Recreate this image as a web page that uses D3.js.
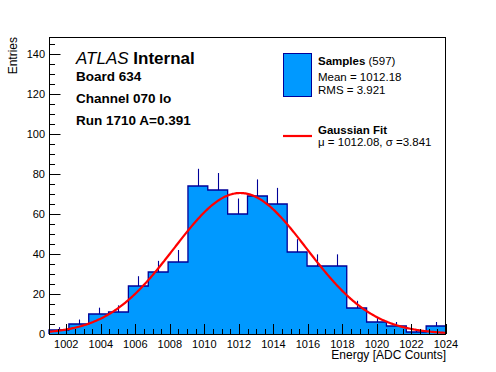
<!DOCTYPE html>
<html>
<head>
<meta charset="utf-8">
<script src="https://cdn.jsdelivr.net/npm/d3@7"></script>
<style>
  html, body { margin: 0; padding: 0; background: #fff; }
  svg { display: block; font-family: "Liberation Sans", Arial, Helvetica, sans-serif; }
</style>
</head>
<body>
<div id="chart"></div>
<script>
// ---------- data ----------
const binEdges = [1001, 1002.15, 1003.3, 1004.45, 1005.6, 1006.75, 1007.9, 1009.05, 1010.2, 1011.35,
                  1012.5, 1013.65, 1014.8, 1015.95, 1017.1, 1018.25, 1019.4, 1020.55, 1021.7, 1022.85, 1024];
const counts = [2, 5, 10, 11, 24, 31, 36, 74, 72, 60, 69, 65, 41, 34, 34, 13, 6, 4, 1, 4];
const xTicks = [1002, 1004, 1006, 1008, 1010, 1012, 1014, 1016, 1018, 1020, 1022, 1024];
const yTicks = [0, 20, 40, 60, 80, 100, 120, 140];
const fitMu = 1012.08, fitSigma = 3.841, fitAmp = 70.5;
const infoLines = ["Board 634", "Channel 070 lo", "Run 1710 A=0.391"];

// ---------- layout ----------
const W = 496, H = 372;
const L = 49, R = 446, T = 37, B = 334;
const fillC = "#0099ff", lineC = "#000099", redC = "#ff0000";

const svg = d3.select("#chart").append("svg").attr("width", W).attr("height", H);
svg.append("rect").attr("width", W).attr("height", H).attr("fill", "#fff");

const x = d3.scaleLinear().domain([1001, 1024]).range([L, R]);
const y = d3.scaleLinear().domain([0, 148.5]).range([B, T]);

const bins = counts.map((c, i) => ({ x0: binEdges[i], x1: binEdges[i + 1], v: c }));

// fill
svg.append("g").selectAll("rect").data(bins).enter().append("rect")
  .attr("x", d => x(d.x0)).attr("width", d => x(d.x1) - x(d.x0))
  .attr("y", d => y(d.v)).attr("height", d => y(0) - y(d.v))
  .attr("fill", fillC).attr("shape-rendering", "crispEdges");

// outline (step)
const stepPts = [[binEdges[0], 0]];
bins.forEach(d => { stepPts.push([d.x0, d.v]); stepPts.push([d.x1, d.v]); });
stepPts.push([binEdges[binEdges.length - 1], 0]);
svg.append("path")
  .attr("d", d3.line().x(p => x(p[0])).y(p => y(p[1]))(stepPts))
  .attr("fill", "none").attr("stroke", lineC).attr("stroke-width", 1.3);

// error bars (upper part)
svg.append("g").selectAll("line").data(bins).enter().append("line")
  .attr("x1", d => Math.round(x((d.x0 + d.x1) / 2)) + 0.5)
  .attr("x2", d => Math.round(x((d.x0 + d.x1) / 2)) + 0.5)
  .attr("y1", d => y(d.v)).attr("y2", d => y(d.v + Math.sqrt(d.v)))
  .attr("stroke", lineC).attr("stroke-width", 1.1);

// gaussian fit curve
const fx = d3.range(0, 401).map(i => 1001 + i * 23 / 400);
svg.append("path")
  .attr("d", d3.line().x(v => x(v)).y(v => y(fitAmp * Math.exp(-0.5 * Math.pow((v - fitMu) / fitSigma, 2))))(fx))
  .attr("fill", "none").attr("stroke", redC).attr("stroke-width", 2.2);

// frame
svg.append("rect").attr("x", L + 0.5).attr("y", T + 0.5).attr("width", R - L - 1).attr("height", B - T)
  .attr("fill", "none").attr("stroke", "#000").attr("stroke-width", 1).attr("shape-rendering", "crispEdges");

// y axis ticks (inward)
const yMinor = d3.range(0, 149, 5);
svg.append("g").selectAll("line").data(yMinor).enter().append("line")
  .attr("x1", L).attr("x2", d => L + (d % 20 === 0 ? 11.5 : 6))
  .attr("y1", d => Math.round(y(d)) + 0.5).attr("y2", d => Math.round(y(d)) + 0.5)
  .attr("stroke", "#000").attr("stroke-width", 1);
svg.append("g").selectAll("text").data(yTicks).enter().append("text")
  .attr("x", L - 4).attr("y", d => y(d)).attr("dy", "0.36em")
  .attr("text-anchor", "end").attr("font-size", 11).text(d => d);

// x axis ticks (inward)
const xMinor = d3.range(1001, 1024.01, 0.5);
svg.append("g").selectAll("line").data(xMinor).enter().append("line")
  .attr("x1", d => Math.round(x(d)) + 0.5).attr("x2", d => Math.round(x(d)) + 0.5)
  .attr("y1", B).attr("y2", d => B - (Math.abs(d % 2) < 1e-6 ? 10 : 5))
  .attr("stroke", "#000").attr("stroke-width", 1);
svg.append("g").selectAll("text").data(xTicks).enter().append("text")
  .attr("x", d => x(d)).attr("y", 347.5)
  .attr("text-anchor", "middle").attr("font-size", 11).text(d => d);

// axis titles
svg.append("text").attr("x", R).attr("y", 359).attr("text-anchor", "end")
  .attr("font-size", 12).text("Energy [ADC Counts]");
svg.append("text").attr("transform", `translate(16.5,${T}) rotate(-90)`)
  .attr("text-anchor", "end").attr("font-size", 12).text("Entries");

// ATLAS label
const atl = svg.append("text").attr("x", 76).attr("y", 63.5).attr("font-size", 17);
atl.append("tspan").attr("font-style", "italic").text("ATLAS");
atl.append("tspan").attr("font-weight", "bold").text(" Internal");
const infoY = [80.5, 102.5, 125];
infoLines.forEach((t, i) => {
  svg.append("text").attr("x", 76).attr("y", infoY[i]).attr("font-size", 13.5)
    .attr("font-weight", "bold").text(t);
});

// legend
svg.append("rect").attr("x", 283.5).attr("y", 53.5).attr("width", 28).attr("height", 43)
  .attr("fill", fillC).attr("stroke", lineC).attr("stroke-width", 1);
const lx = 318;
const s1 = svg.append("text").attr("x", lx).attr("y", 65).attr("font-size", 11.5);
s1.append("tspan").attr("font-weight", "bold").text("Samples");
s1.append("tspan").text(" (597)");
svg.append("text").attr("x", lx).attr("y", 80.5).attr("font-size", 11.5).text("Mean = 1012.18");
svg.append("text").attr("x", lx).attr("y", 94).attr("font-size", 11.5).text("RMS = 3.921");
svg.append("line").attr("x1", 283).attr("x2", 312).attr("y1", 136).attr("y2", 136)
  .attr("stroke", redC).attr("stroke-width", 2.2);
svg.append("text").attr("x", lx).attr("y", 133.5).attr("font-size", 11.5).attr("font-weight", "bold").text("Gaussian Fit");
svg.append("text").attr("x", lx).attr("y", 146).attr("font-size", 11.5).text("\u03bc = 1012.08, \u03c3 =3.841");
</script>
</body>
</html>
